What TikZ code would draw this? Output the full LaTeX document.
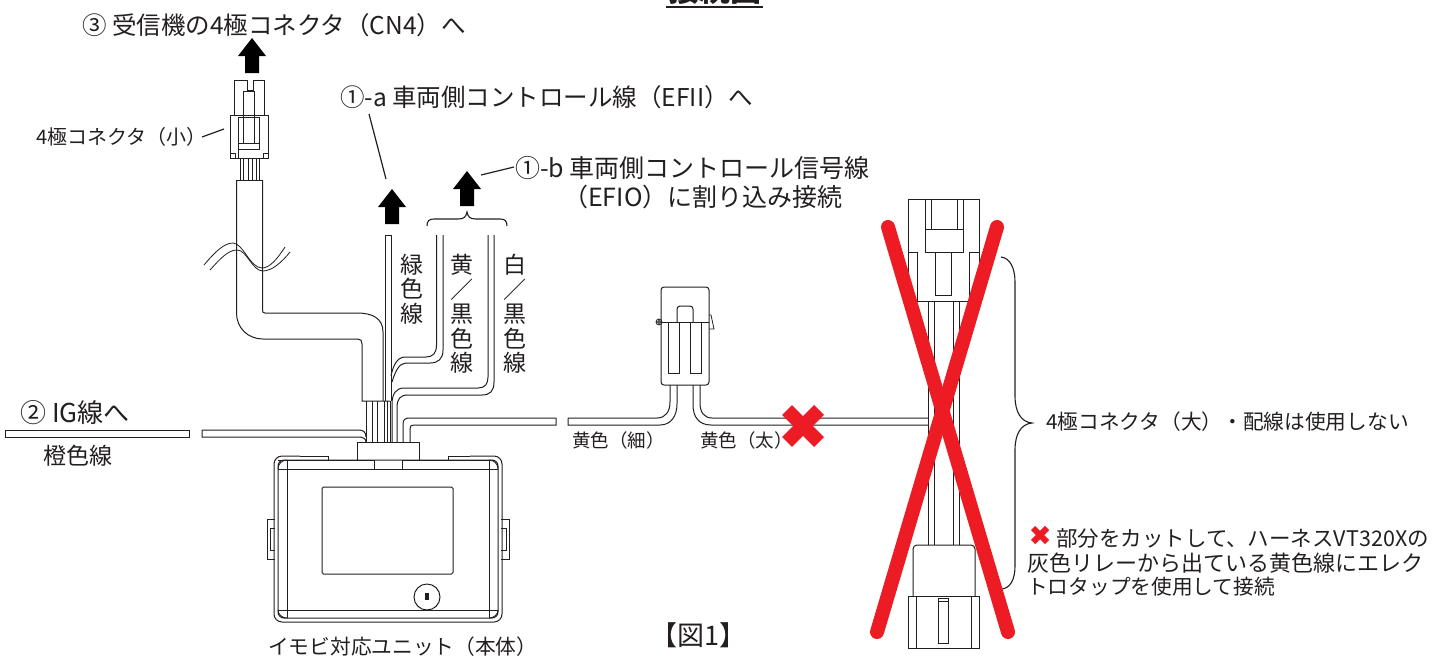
\documentclass[tikz,border=0pt]{standalone}
\usepackage{fontspec}
\setmainfont{Noto Sans CJK JP}
\definecolor{inkline}{HTML}{231F20}
\definecolor{markred}{HTML}{ED1C24}
\tikzset{
  part/.style={draw=inkline,line width=1pt},
  thin part/.style={draw=inkline,line width=0.8pt},
  label/.style={inner sep=0pt,anchor=west,text=inkline,font=\fontsize{24}{26}\selectfont},
  size/.style={font=\fontsize{#1}{#1}\selectfont},
  vlabel/.style={inner sep=0pt,align=center,text=inkline,font=\fontsize{23}{24.5}\selectfont},
  leader/.style={draw=inkline,line width=1.2pt},
  cutmark/.style={draw=markred,line width=14pt},
  bigcross/.style={draw=markred,line width=14pt,line cap=round}
}
\begin{document}
\begin{tikzpicture}[x=1pt,y=-1pt]
\useasboundingbox (0,0) rectangle (1442,659);
% title
\node[inner sep=0pt,anchor=base,text=inkline,font=\fontsize{31}{31}\selectfont\bfseries] (title) at (715,1.5) {接続図};
\draw[inkline,line width=2pt] (666,7)--(763,7);
% block arrows
\foreach \ax/\ay in {252/38,392/189,467/171}
  \fill[black] (\ax,\ay)--(\ax+14,\ay+18)--(\ax+7,\ay+18)--(\ax+7,\ay+35)--(\ax-7,\ay+35)--(\ax-7,\ay+18)--(\ax-14,\ay+18)--cycle;
% small connector
\draw[part] (234,115)--(234,80)--(247,80)--(247,90)--(253,90)--(253,80)--(264,80)--(264,115);
\draw[part] (243,143)--(243,91)--(254,91)--(254,143);
\draw[part] (230,115) rectangle (268,158);
\draw[part] (238,158)--(238,117)--(259,117)--(259,149)--(238,149);
\draw[part] (238,143)--(259,143);
\draw[thin part] (230,153) rectangle (235,158) (263,153) rectangle (268,158);
\foreach \wx in {240,243,248,252,256,259} \draw[thin part] (\wx,158)--(\wx,180);
% cable
\draw[part] (236.5,180)--(262.5,180);
\draw[part] (236.5,180)--(236.5,313) .. controls (236.5,328) and (248,339) .. (263,339)--(358,339) .. controls (361,339) and (362,341) .. (362,344)--(362,401)--(390,401);
\draw[part] (262.5,180)--(262.5,310) .. controls (262.5,312) and (263,313) .. (265,313)--(357,313) .. controls (372,313) and (383,318) .. (383,332)--(383,401);
\draw[thin part] (204,265) .. controls (215,252) and (224,243) .. (233,243) .. controls (243,243) and (250,268) .. (262,268) .. controls (270,268) and (278,258) .. (285,247);
\draw[thin part] (210,270) .. controls (220,259) and (228,250) .. (237,250) .. controls (247,250) and (252,271) .. (263,271) .. controls (272,271) and (282,262) .. (290,252);
% signal wires
\draw[part] (385,401)--(385,235)--(391,235)--(391,401);
\draw[part] (436.5,235)--(436.5,345) .. controls (436.5,353) and (433,357) .. (426,357)--(405,357) .. controls (397,357) and (393,366) .. (391,376);
\draw[part] (443,235)--(443,350) .. controls (443,359) and (438,363) .. (430,363)--(406,363) .. controls (399,363) and (395,372) .. (392,382);
\draw[part] (488,235)--(488,377) .. controls (488,384) and (485,388) .. (478,388)--(404,388) .. controls (396,388) and (392,394) .. (392,404)--(392,442);
\draw[part] (494,235)--(494,382) .. controls (494,391) and (490,395) .. (482,395)--(408,395) .. controls (400,395) and (397,399) .. (397,408)--(397,442);
\foreach \wx in {366,372,377,384,387,390} \draw[thin part] (\wx,401)--(\wx,442);
\draw[part] (556,418)--(556,425)--(414,425) .. controls (411,425) and (410,426) .. (410,429)--(410,442);
\draw[part] (556,418)--(409,418) .. controls (405,418) and (403,420) .. (403,424)--(403,442);
% orange wire
\draw[part] (5,430) rectangle (189,437);
\draw[part] (366,437) .. controls (366,432) and (363,430) .. (359,430)--(202,430)--(202,437)--(358,437) .. controls (362,437) and (366,438) .. (366,442);
% unit body
\draw[part] (357,460)--(357,442)--(419,442)--(419,460);
\draw[part] (278,460)--(374,460)--(374,469)--(402,469)--(402,460)--(493,460);
\draw[part] (278,469)--(498,469);
\draw[part,rounded corners=8pt] (300,456)--(274,456)--(274,622)--(502,622)--(502,456)--(470,456);
\draw[part] (300,456)--(328,456)--(328,460) (470,456)--(448,456)--(448,460);
\draw[part,rounded corners=6pt] (278,460) rectangle (498,618);
\draw[part] (287,460)--(287,618) (489,460)--(489,618);
\draw[part] (278,610)--(498,610);
\draw[thin part] (278,469) .. controls (278,464) and (282,460) .. (287,460);
\draw[thin part] (498,469) .. controls (498,464) and (494,460) .. (489,460);
\draw[thin part] (278,610) .. controls (278,614) and (282,618) .. (287,618);
\draw[thin part] (498,610) .. controls (498,614) and (494,618) .. (489,618);
\draw[part,rounded corners=1.5pt] (322,487) rectangle (453,574);
\draw[part] (427,597) circle (13);
\draw[thin part,fill=inkline] (425.5,593) rectangle (428.5,599);
\draw[part] (275,519)--(267,519)--(267,559)--(275,559);
\draw[part] (275,528)--(270,528)--(270,550)--(275,550);
\draw[part] (501,519)--(509,519)--(509,559)--(501,559);
\draw[part] (501,528)--(506,528)--(506,550)--(501,550);
% tap
\draw[part,rounded corners=3pt] (661,385)--(661,287)--(709,287)--(709,385)--cycle;
\draw[part] (661,322)--(709,322);
\draw[part,rounded corners=3pt] (677,322)--(677,306)--(693,306)--(693,322);
\draw[part] (668,322)--(668,373)--(679,373)--(679,322);
\draw[part] (690,322)--(690,373)--(701,373)--(701,322);
\draw[thin part] (659,322) circle (3) (659,322) circle (1.5);
\draw[thin part] (709,315)--(711,315)--(714,329)--(709,329);
\draw[part] (568,418)--(657,418) .. controls (666,418) and (670,411) .. (670,402)--(670,385);
\draw[part] (568,418)--(568,425)--(660,425) .. controls (671,425) and (677,416) .. (677,404)--(677,385);
\draw[part] (693,385)--(693,405) .. controls (693,417) and (699,425) .. (711,425)--(928,425);
\draw[part] (700,385)--(700,403) .. controls (700,412) and (704,418) .. (712,418)--(928,418);
% big connector
\draw[part] (908,293)--(908,199)--(979,199)--(979,293);
\draw[part] (925,199)--(925,229) (931,199)--(931,229) (957,199)--(957,229) (963,199)--(963,229);
\draw[part] (925,229) rectangle (963,252);
\draw[part] (935,252)--(935,295)--(951,295)--(951,252);
\draw[part] (908,252)--(917,252)--(917,301)--(969,301)--(969,252)--(979,252);
\foreach \wx in {928,934,953,959} \draw[part] (\wx,301)--(\wx,545);
\draw[part,rounded corners=4pt] (913,596)--(913,545)--(975,545)--(975,596);
\draw[part] (908,596) rectangle (979,648);
\draw[part] (916,596)--(916,648) (971,596)--(971,648);
\draw[part] (938,598) rectangle (948,643);
\draw[part] (938,601)--(948,601);
% braces
\draw[part,line width=1.1pt] (427,226) .. controls (427,221) and (429,219) .. (434,219)--(458,219) .. controls (464,219) and (466,217) .. (467,212) .. controls (468,217) and (470,219) .. (476,219)--(500,219) .. controls (505,219) and (507,221) .. (507,226);
\draw[part,line width=1.1pt] (1001,257) .. controls (1010,258) and (1015,268) .. (1015,282)--(1015,396) .. controls (1015,412) and (1021,422) .. (1032,423) .. controls (1021,424) and (1015,434) .. (1015,450)--(1015,566) .. controls (1015,580) and (1010,588) .. (1002,589);
% labels
\node[label,size=24.5] (cnfour) at (82,25) {③ 受信機の4極コネクタ（CN4）へ};
\node[label,size=20] (smallcon) at (36,137) {4極コネクタ（小）};
\coordinate (smallconfrom) at (202,137);
\coordinate (smallconto) at (224,129);
\draw[leader] (smallconfrom)--(smallconto);
\node[label,size=24.5] (efii) at (340,97) {①-a 車両側コントロール線（EFII）へ};
\coordinate (efiifrom) at (369,114);
\coordinate (efiito) at (386,179);
\draw[leader] (efiifrom)--(efiito);
\node[label,size=25] (efio) at (515,168) {①-b 車両側コントロール信号線};
\node[label,size=25] (efiotwo) at (563,197) {（EFIO）に割り込み接続};
\coordinate (efiofrom) at (514,167);
\coordinate (efioto) at (481,175);
\draw[leader] (efiofrom)--(efioto);
\node[vlabel] (green) at (412,289) {緑\\色\\線};
\node[vlabel] (yellowblk) at (462,314) {黄\\／\\黒\\色\\線};
\node[vlabel] (whiteblk) at (515,314) {白\\／\\黒\\色\\線};
\node[label,size=26] (ig) at (20,413) {② IG線へ};
\node[label,size=23] (orange) at (43,456) {橙色線};
\node[label,size=18.5] (yelthin) at (572,440) {黄色（細）};
\node[label,size=18.5] (yelthick) at (700,440) {黄色（太）};
\node[label,size=20.7] (unit) at (268,647) {イモビ対応ユニット（本体）};
\node[label,size=27] (figone) at (650,635) {【図1】};
\node[label,size=20.7] (unused) at (1046,422) {4極コネクタ（大）・配線は使用しない};
\node[label,size=21.5] (noteone) at (1056,538) {部分をカットして、ハーネスVT320Xの};
\node[label,size=22] (notetwo) at (1027,563) {灰色リレーから出ている黄色線にエレク};
\node[label,size=20.7] (notethree) at (1027,587) {トロタップを使用して接続};
% red marks
\draw[cutmark] (787,410)--(819,442) (819,410)--(787,442);
\draw[markred,line width=6pt] (1033,528)--(1047,542) (1047,528)--(1033,542);
\draw[bigcross] (888,227)--(1008,632);
\draw[bigcross] (997,227)--(877,632);
\end{tikzpicture}
\end{document}
